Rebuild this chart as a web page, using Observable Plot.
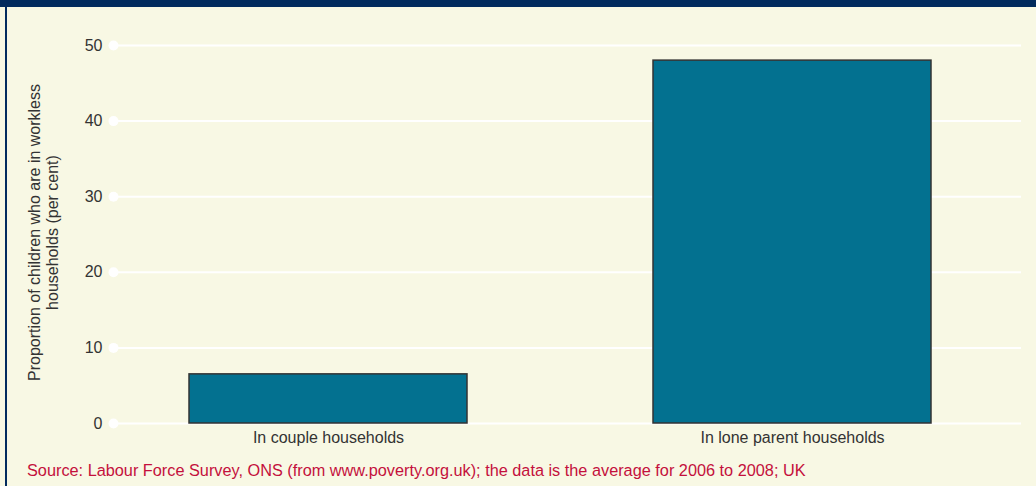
<!DOCTYPE html>
<html>
<head>
<meta charset="utf-8">
<script src="https://cdn.jsdelivr.net/npm/d3@7"></script>
<script src="https://cdn.jsdelivr.net/npm/@observablehq/plot@0.6"></script>
<style>
  html, body { margin: 0; padding: 0; background: #f8f8e4; }
  body { width: 1036px; height: 486px; position: relative; overflow: hidden; font-family: "Liberation Sans", Arial, sans-serif; }
  #topbar { position: absolute; left: 0; top: 0; width: 1036px; height: 7px; background: #022b5e; }
  #leftbar { position: absolute; left: 5px; top: 0; width: 2px; height: 486px; background: #022b5e; }
  #chart { position: absolute; left: 0; top: 0; }
  #caption { position: absolute; left: 27px; top: 461px; font-size: 16.3px; line-height: 18px; color: #c4103c; white-space: nowrap; }
</style>
</head>
<body>
<div id="topbar"></div>
<div id="leftbar"></div>
<div id="chart"></div>
<div id="caption">Source: Labour Force Survey, ONS (from www.poverty.org.uk); the data is the average for 2006 to 2008; UK</div>
<script>
const categories = ["In couple households", "In lone parent households"];
const values = [6.5, 48];
const yTicks = [0, 10, 20, 30, 40, 50];
const yTitle = "Proportion of children who are in workless\nhouseholds (per cent)";

const data = categories.map((c, i) => ({category: c, value: values[i]}));

const chart = Plot.plot({
  width: 1036,
  height: 450,
  marginLeft: 113,
  marginRight: 15,
  marginTop: 45,
  marginBottom: 27,
  style: {background: "transparent", fontFamily: "Liberation Sans, Arial, sans-serif", fontSize: "16px", color: "#333"},
  x: {domain: categories, paddingInner: 0.4, paddingOuter: 0.1784, align: 0.459, label: null},
  y: {domain: [0, 50], label: null},
  marks: [
    Plot.gridY(yTicks, {stroke: "white", strokeOpacity: 1, strokeWidth: 2}),
    Plot.dot(yTicks, {y: d => d, frameAnchor: "left", r: 5, fill: "white", stroke: null}),
    Plot.axisY(yTicks, {tickSize: 0, tickPadding: 11, fontSize: 16, fill: "#333", label: null}),
    Plot.axisX({tickSize: 0, tickPadding: 8, fontSize: 16, fill: "#333", label: null}),
    Plot.barY(data, {x: "category", y: "value", fill: "#037190", stroke: "#333", strokeWidth: 1.5}),
    Plot.text([yTitle], {text: d => d, frameAnchor: "left", rotate: -90, dx: -70, dy: -2, textAnchor: "middle", lineAnchor: "middle", lineHeight: 1.125, fontSize: 16, fill: "#333"})
  ]
});
document.getElementById("chart").appendChild(chart);
</script>
</body>
</html>
